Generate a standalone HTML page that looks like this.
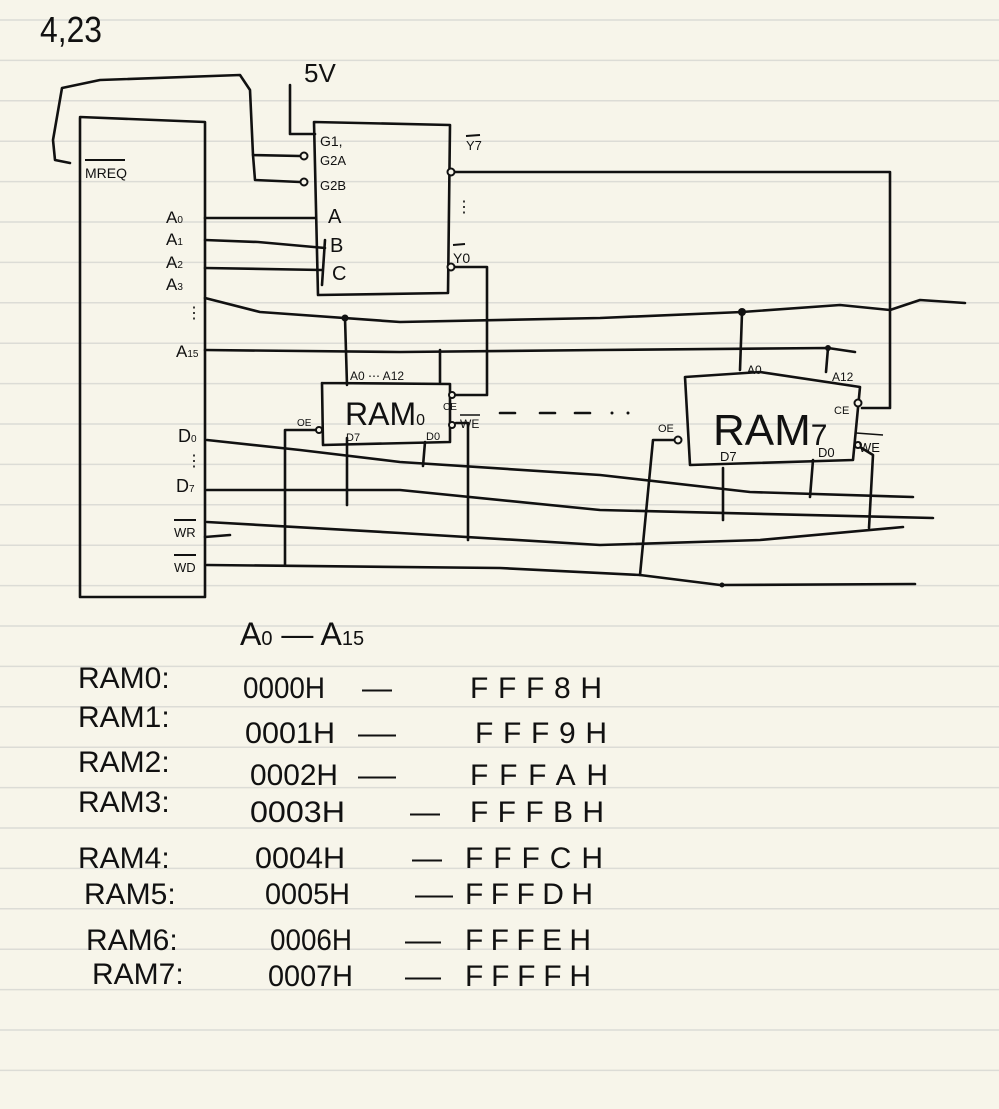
<!DOCTYPE html>
<html><head><meta charset="utf-8"><style>
html,body{margin:0;padding:0;background:#f7f5ea;}
svg{display:block}
text{font-family:"Liberation Sans",sans-serif;fill:#111}
</style></head><body>
<svg width="999" height="1109" viewBox="0 0 999 1109" xmlns="http://www.w3.org/2000/svg">
<rect width="999" height="1109" fill="#f7f5ea"/>
<g stroke="#dcdcd6" stroke-width="1.5">
<line x1="0" y1="20" x2="999" y2="20"/><line x1="0" y1="60.4" x2="999" y2="60.4"/><line x1="0" y1="100.8" x2="999" y2="100.8"/><line x1="0" y1="141.2" x2="999" y2="141.2"/><line x1="0" y1="181.6" x2="999" y2="181.6"/><line x1="0" y1="222" x2="999" y2="222"/><line x1="0" y1="262.4" x2="999" y2="262.4"/><line x1="0" y1="302.8" x2="999" y2="302.8"/><line x1="0" y1="343.2" x2="999" y2="343.2"/><line x1="0" y1="383.6" x2="999" y2="383.6"/><line x1="0" y1="424" x2="999" y2="424"/><line x1="0" y1="464.4" x2="999" y2="464.4"/><line x1="0" y1="504.8" x2="999" y2="504.8"/><line x1="0" y1="545.2" x2="999" y2="545.2"/><line x1="0" y1="585.6" x2="999" y2="585.6"/><line x1="0" y1="626" x2="999" y2="626"/><line x1="0" y1="666.4" x2="999" y2="666.4"/><line x1="0" y1="706.8" x2="999" y2="706.8"/><line x1="0" y1="747.2" x2="999" y2="747.2"/><line x1="0" y1="787.6" x2="999" y2="787.6"/><line x1="0" y1="828" x2="999" y2="828"/><line x1="0" y1="868.4" x2="999" y2="868.4"/><line x1="0" y1="908.8" x2="999" y2="908.8"/><line x1="0" y1="949.2" x2="999" y2="949.2"/><line x1="0" y1="989.6" x2="999" y2="989.6"/><line x1="0" y1="1030" x2="999" y2="1030"/><line x1="0" y1="1070.4" x2="999" y2="1070.4"/>
</g>
<g fill="none" stroke="#111" stroke-width="2.6" stroke-linecap="round" stroke-linejoin="round">
<path d="M80 118 L80 597 L205 597 L205 122 L80 117"/>
<path d="M70 163 L55 160 L53 140 L62 88 L100 80 L240 75 L250 90 L253 155 L300 156"/>
<path d="M253 155 L255 180 L300 182"/>
<path d="M290 85 L290 134 L315 134"/>
<path d="M314 122 L318 295 L448 293 L450 125 L314 122"/>
<path d="M205 218 L316 218"/>
<path d="M205 240 L258 242 L325 248"/>
<path d="M205 268 L322 270"/>
<path d="M325 240 L322 285"/>
<path d="M455 172 L890 172 L890 408 L862 408"/>
<path d="M455 267 L487 267 L487 395 L455 395"/>
<path d="M205 298 L260 312 L400 322 L600 318 L742 312 L840 305 L890 310 L920 300 L965 303"/>
<path d="M205 350 L400 352 L600 350 L828 348 L855 352"/>
<path d="M345 318 L347 385"/><path d="M440 350 L440 382"/>
<path d="M742 313 L740 370"/><path d="M828 348 L826 372"/>
<path d="M322 383 L323 445 L450 442 L450 384 L322 383"/>
<path d="M685 377 L760 372 L860 387 L853 460 L690 465 L685 377"/>
<path d="M207 440 L300 450 L400 462 L600 475 L750 492 L913 497"/>
<path d="M207 490 L400 490 L600 510 L933 518"/>
<path d="M207 522 L400 533 L600 545 L760 540 L903 527"/>
<path d="M207 565 L500 568 L640 575 L720 585 L915 584"/>
<path d="M205 537 L230 535"/>
<path d="M316 430 L285 430 L285 565"/>
<path d="M347 438 L347 505"/>
<path d="M425 442 L423 466"/>
<path d="M456 423 L468 423 L468 540"/>
<path d="M680 440 L653 440 L640 575"/>
<path d="M723 468 L723 520"/>
<path d="M813 460 L810 497"/>
<path d="M860 447 L873 455 L869 528"/>
<path d="M500 413 L515 413 M540 413 L555 413 M575 413 L590 413"/>
</g>
<g fill="#111">
<circle cx="345" cy="318" r="3.5"/><circle cx="742" cy="312" r="4"/><circle cx="828" cy="348" r="3"/><circle cx="722" cy="585" r="2.5"/>
<circle cx="612" cy="413" r="1.5"/><circle cx="628" cy="413" r="1.5"/>
</g>
<g fill="#f7f5ea" stroke="#111" stroke-width="2">
<circle cx="304" cy="156" r="3.5"/><circle cx="304" cy="182" r="3.5"/>
<circle cx="451" cy="172" r="3.5"/><circle cx="451" cy="267" r="3.5"/>
<circle cx="452" cy="395" r="3"/><circle cx="319" cy="430" r="3"/><circle cx="452" cy="425" r="3"/>
<circle cx="858" cy="403" r="3.5"/><circle cx="678" cy="440" r="3.5"/><circle cx="858" cy="445" r="3"/>
</g>
<g>
<text x="40" y="42" font-size="36" textLength="62" lengthAdjust="spacingAndGlyphs">4,23</text>
<text x="304" y="82" font-size="26">5V</text>
<text x="85" y="178" font-size="14">MREQ</text><path d="M85 160 L125 160" stroke="#111" stroke-width="2"/>
<text x="166" y="223" font-size="17">A<tspan font-size="10">0</tspan></text>
<text x="166" y="245" font-size="17">A<tspan font-size="10">1</tspan></text>
<text x="166" y="268" font-size="17">A<tspan font-size="10">2</tspan></text>
<text x="166" y="290" font-size="17">A<tspan font-size="10">3</tspan></text>
<text x="186" y="318" font-size="16">⋮</text>
<text x="176" y="357" font-size="17">A<tspan font-size="10">15</tspan></text>
<text x="178" y="442" font-size="18">D<tspan font-size="10">0</tspan></text>
<text x="186" y="466" font-size="16">⋮</text>
<text x="176" y="492" font-size="18">D<tspan font-size="10">7</tspan></text>
<text x="174" y="537" font-size="13">WR</text><path d="M174 520 L196 520" stroke="#111" stroke-width="2"/>
<text x="174" y="572" font-size="13">WD</text><path d="M174 555 L196 555" stroke="#111" stroke-width="2"/>
<text x="320" y="146" font-size="14">G1,</text>
<text x="320" y="165" font-size="13">G2A</text>
<text x="320" y="190" font-size="13">G2B</text>
<text x="328" y="223" font-size="20">A</text>
<text x="330" y="252" font-size="20">B</text>
<text x="332" y="280" font-size="20">C</text>
<text x="466" y="150" font-size="13">Y7</text><path d="M466 136 L480 135" stroke="#111" stroke-width="2"/>
<text x="456" y="212" font-size="16">⋮</text>
<text x="453" y="263" font-size="14">Y0</text><path d="M453 245 L465 244" stroke="#111" stroke-width="2"/>
<text x="350" y="380" font-size="12">A0 ⋯ A12</text>
<text x="345" y="425" font-size="32">RAM<tspan font-size="16">0</tspan></text>
<text x="346" y="441" font-size="11">D7</text><text x="426" y="440" font-size="11">D0</text>
<text x="297" y="426" font-size="10">OE</text><text x="443" y="410" font-size="10">CE</text>
<text x="460" y="428" font-size="12">WE</text><path d="M460 415 L480 415" stroke="#111" stroke-width="1.5"/>
<text x="747" y="374" font-size="12">A0</text><text x="832" y="381" font-size="12">A12</text>
<text x="713" y="445" font-size="44">RAM<tspan font-size="30">7</tspan></text>
<text x="720" y="461" font-size="13">D7</text><text x="818" y="457" font-size="13">D0</text>
<text x="658" y="432" font-size="11">OE</text><text x="834" y="414" font-size="11">CE</text>
<text x="859" y="452" font-size="13">WE</text><path d="M856 433 L883 435" stroke="#111" stroke-width="1.5"/>
<text x="240" y="645" font-size="32">A<tspan font-size="20">0</tspan> — A<tspan font-size="20">15</tspan></text>
<g font-size="30">
<text x="78" y="688">RAM0:</text>
<text x="243" y="698" textLength="82" lengthAdjust="spacingAndGlyphs">0000H</text><text x="362" y="698">—</text><text x="470" y="698" textLength="132" lengthAdjust="spacing">FFF8H</text>
<text x="78" y="727">RAM1:</text>
<text x="245" y="743" textLength="90" lengthAdjust="spacingAndGlyphs">0001H</text><text x="358" y="743" textLength="38" lengthAdjust="spacingAndGlyphs">—</text><text x="475" y="743" textLength="132" lengthAdjust="spacing">FFF9H</text>
<text x="78" y="772">RAM2:</text>
<text x="250" y="785" textLength="88" lengthAdjust="spacingAndGlyphs">0002H</text><text x="358" y="785" textLength="38" lengthAdjust="spacingAndGlyphs">—</text><text x="470" y="785" textLength="138" lengthAdjust="spacing">FFFAH</text>
<text x="78" y="812">RAM3:</text>
<text x="250" y="822" textLength="95" lengthAdjust="spacingAndGlyphs">0003H</text><text x="410" y="822">—</text><text x="470" y="822" textLength="134" lengthAdjust="spacing">FFFBH</text>
<text x="78" y="868">RAM4:</text>
<text x="255" y="868" textLength="90" lengthAdjust="spacingAndGlyphs">0004H</text><text x="412" y="868">—</text><text x="465" y="868" textLength="138" lengthAdjust="spacing">FFFCH</text>
<text x="84" y="904">RAM5:</text>
<text x="265" y="904" textLength="85" lengthAdjust="spacingAndGlyphs">0005H</text><text x="415" y="904" textLength="38" lengthAdjust="spacingAndGlyphs">—</text><text x="465" y="904" textLength="128" lengthAdjust="spacing">FFFDH</text>
<text x="86" y="950">RAM6:</text>
<text x="270" y="950" textLength="82" lengthAdjust="spacingAndGlyphs">0006H</text><text x="405" y="950" textLength="36" lengthAdjust="spacingAndGlyphs">—</text><text x="465" y="950" textLength="126" lengthAdjust="spacing">FFFEH</text>
<text x="92" y="984">RAM7:</text>
<text x="268" y="986" textLength="85" lengthAdjust="spacingAndGlyphs">0007H</text><text x="405" y="986" textLength="36" lengthAdjust="spacingAndGlyphs">—</text><text x="465" y="986" textLength="126" lengthAdjust="spacing">FFFFH</text>
</g>
</g>
</svg>
</body></html>
